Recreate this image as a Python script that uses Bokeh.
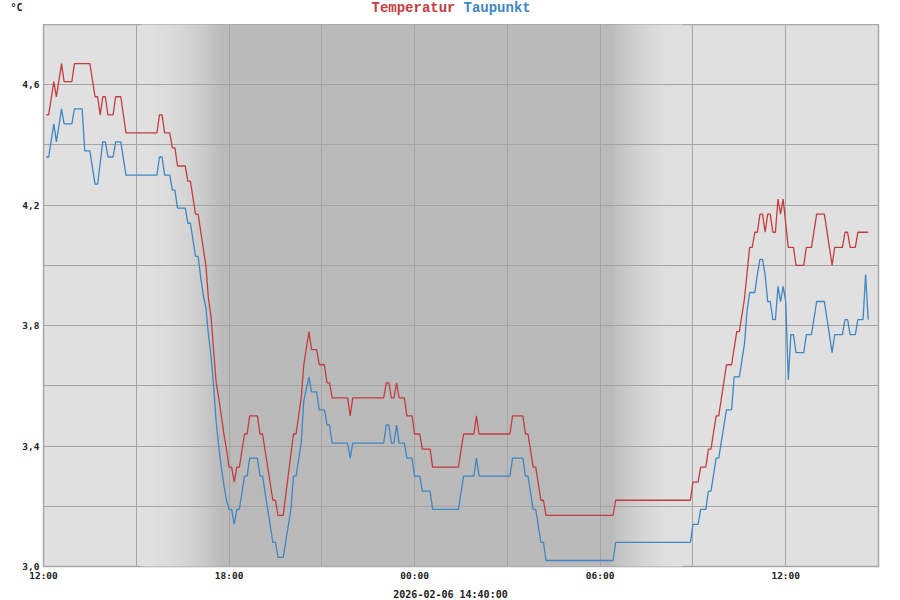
import datetime as dt
from bokeh.plotting import figure
from bokeh.layouts import column
from bokeh.models import FixedTicker, CustomJSTickFormatter, Range1d
from bokeh.core.properties import value
from bokeh.embed import file_html
from bokeh.resources import INLINE

# ---------------- data ----------------
START = dt.datetime(2026, 2, 5, 12, 0)       # left edge of the time axis
END = dt.datetime(2026, 2, 6, 15, 0)         # right edge of the time axis

series_names = ["Temperatur", "Taupunkt"]
unit_label = "°C"

# minutes after 2026-02-05 12:00 and values in °C (vertices of the line)
temp_minutes = [5, 10, 20, 25, 35, 40, 55, 60, 90, 100, 105, 110, 115, 120, 125, 135, 140, 150, 160, 220,
                225, 230, 235, 245, 250, 255, 260, 275, 280, 285, 295, 300, 315, 320, 325, 330, 335, 340, 345, 350,
                355, 360, 365, 370, 375, 380, 390, 395, 400, 415, 420, 425, 445, 450, 455, 465, 485, 490, 500, 505,
                515, 520, 530, 535, 545, 550, 555, 560, 590, 595, 600, 660, 665, 670, 675, 680, 685, 690, 700, 705,
                715, 720, 730, 735, 750, 755, 805, 815, 835, 840, 845, 905, 910, 930, 935, 940, 950, 955, 965, 970,
                975, 1105, 1110, 1255, 1260, 1270, 1275, 1285, 1290, 1295, 1305, 1310, 1325, 1335, 1345, 1350, 1360,
                1370, 1375, 1380, 1385, 1390, 1395, 1400, 1405, 1410, 1415, 1420, 1425, 1430, 1435, 1445, 1455, 1460,
                1475, 1480, 1490, 1500, 1515, 1530, 1535, 1550, 1555, 1560, 1565, 1575, 1580, 1600]
temp_values = [4.50, 4.50, 4.61, 4.56, 4.67, 4.61, 4.61, 4.67, 4.67, 4.56, 4.56, 4.50, 4.56, 4.56, 4.50, 4.50, 4.56, 4.56, 4.44, 4.44,
               4.50, 4.50, 4.44, 4.44, 4.39, 4.39, 4.33, 4.33, 4.28, 4.28, 4.17, 4.17, 4.00, 3.89, 3.83, 3.72, 3.61, 3.56, 3.50, 3.44,
               3.39, 3.33, 3.33, 3.28, 3.33, 3.33, 3.44, 3.44, 3.50, 3.50, 3.44, 3.44, 3.22, 3.22, 3.17, 3.17, 3.44, 3.44, 3.56, 3.67,
               3.78, 3.72, 3.72, 3.67, 3.67, 3.61, 3.61, 3.56, 3.56, 3.50, 3.56, 3.56, 3.61, 3.61, 3.56, 3.56, 3.61, 3.56, 3.56, 3.50,
               3.50, 3.44, 3.44, 3.39, 3.39, 3.33, 3.33, 3.44, 3.44, 3.50, 3.44, 3.44, 3.50, 3.50, 3.44, 3.44, 3.33, 3.33, 3.22, 3.22,
               3.17, 3.17, 3.22, 3.22, 3.28, 3.28, 3.33, 3.33, 3.39, 3.39, 3.50, 3.50, 3.67, 3.67, 3.78, 3.78, 3.89,
               4.06, 4.06, 4.11, 4.11, 4.17, 4.17, 4.11, 4.17, 4.17, 4.11, 4.11, 4.22, 4.17, 4.22, 4.06, 4.06, 4.00,
               4.00, 4.06, 4.06, 4.17, 4.17, 4.00, 4.06, 4.06, 4.11, 4.11, 4.06, 4.06, 4.11, 4.11]

dew_minutes = [5, 10, 20, 25, 35, 40, 55, 60, 75, 80, 90, 100, 105, 115, 120, 125, 135, 140, 150, 160,
               220, 225, 230, 235, 245, 250, 255, 260, 275, 280, 285, 295, 300, 305, 310, 315, 320, 325, 330, 335,
               340, 345, 350, 355, 360, 365, 370, 375, 380, 390, 395, 400, 415, 420, 425, 445, 450, 455, 465, 480,
               485, 490, 500, 505, 515, 520, 530, 535, 545, 550, 555, 560, 590, 595, 600, 660, 665, 670, 675, 680,
               685, 690, 700, 705, 715, 720, 730, 735, 750, 755, 805, 815, 835, 840, 845, 905, 910, 930, 935, 940,
               950, 955, 965, 970, 975, 1105, 1110, 1255, 1260, 1270, 1275, 1285, 1290, 1295, 1305, 1310, 1325, 1335,
               1340, 1350, 1360, 1365, 1370, 1380, 1385, 1390, 1395, 1400, 1405, 1410, 1415, 1420, 1425, 1430, 1435,
               1440, 1445, 1450, 1455, 1460, 1475, 1480, 1490, 1500, 1515, 1530, 1535, 1550, 1555, 1560, 1565, 1575,
               1580, 1590, 1595, 1600]
dew_values = [4.36, 4.36, 4.47, 4.41, 4.52, 4.47, 4.47, 4.52, 4.52, 4.38, 4.38, 4.27, 4.27, 4.41, 4.41, 4.36, 4.36, 4.41, 4.41, 4.30,
              4.30, 4.36, 4.36, 4.30, 4.30, 4.25, 4.25, 4.19, 4.19, 4.14, 4.14, 4.03, 4.03, 3.96, 3.90, 3.86, 3.77, 3.70, 3.60, 3.48,
              3.40, 3.33, 3.27, 3.22, 3.19, 3.19, 3.14, 3.19, 3.19, 3.30, 3.30, 3.36, 3.36, 3.30, 3.30, 3.08, 3.08, 3.03, 3.03, 3.19,
              3.30, 3.30, 3.41, 3.55, 3.63, 3.58, 3.58, 3.52, 3.52, 3.47, 3.47, 3.41, 3.41, 3.36, 3.41, 3.41, 3.47, 3.47, 3.41, 3.41,
              3.47, 3.41, 3.41, 3.36, 3.36, 3.30, 3.30, 3.25, 3.25, 3.19, 3.19, 3.30, 3.30, 3.36, 3.30, 3.30, 3.36, 3.36, 3.30, 3.30,
              3.19, 3.19, 3.08, 3.08, 3.02, 3.02, 3.08, 3.08, 3.14, 3.14, 3.19, 3.19, 3.25, 3.25, 3.36, 3.36, 3.52, 3.52,
              3.63, 3.63, 3.74, 3.85, 3.91, 3.91, 3.97, 4.02, 4.02, 3.97, 3.88, 3.88, 3.82, 3.82, 3.93, 3.88, 3.93,
              3.88, 3.62, 3.77, 3.77, 3.71, 3.71, 3.77, 3.77, 3.88, 3.88, 3.71, 3.77, 3.77, 3.82, 3.82, 3.77, 3.77,
              3.82, 3.82, 3.97, 3.82]

y_label_ticks = [3.0, 3.4, 3.8, 4.2, 4.6]
y_grid_only_ticks = [3.2, 3.6, 4.0, 4.4, 4.8]
x_label_hours = [0, 6, 12, 18, 24]           # hours after START with a label
x_grid_only_hours = [3, 9, 15, 21, 27]

# night shading (darkness ramps): dusk from light to dark, dawn from dark to light
DUSK_START = dt.datetime(2026, 2, 5, 15, 10)
DUSK_END = dt.datetime(2026, 2, 5, 17, 45)
DAWN_START = dt.datetime(2026, 2, 6, 6, 20)
DAWN_END = dt.datetime(2026, 2, 6, 8, 40)

# ---------------- styling ----------------
RED = "#c43c3f"
BLUE = "#3f86c4"
LIGHT = 224
DARK = 186
GRID = "#a4a4a4"
TEXT = "#222222"
TITLE_FONT = "Liberation Mono"
TICK_FONT = "DejaVu Sans Mono"
W = 900
HEADER_H, MAIN_H, FOOTER_H = 24, 559, 17


def ms(t):
    return (t - dt.datetime(1970, 1, 1)).total_seconds() * 1000.0


def gray(d):
    g = int(round(LIGHT - (LIGHT - DARK) * d))
    return "#%02x%02x%02x" % (g, g, g)


def no_frame_align(f):
    try:
        f.frame_align = False
    except Exception:
        pass


def strip_figure(height):
    f = figure(width=W, height=height, x_range=Range1d(0, W), y_range=Range1d(height, 0),
               output_backend="svg", toolbar_location=None, min_border=0,
               x_axis_location=None, y_axis_location=None)
    f.outline_line_color = None
    f.grid.visible = False
    f.background_fill_color = "white"
    f.border_fill_color = "white"
    no_frame_align(f)
    return f


temp_t = [START + dt.timedelta(minutes=m) for m in temp_minutes]
dew_t = [START + dt.timedelta(minutes=m) for m in dew_minutes]
last_time = START + dt.timedelta(minutes=max(temp_minutes[-1], dew_minutes[-1]))

# ---------------- header: unit and two-coloured title ----------------
header = strip_figure(HEADER_H)
header.text(x=[371], y=[7], text=[series_names[0]], text_color=RED,
            text_font=value(TITLE_FONT), text_font_style="bold", text_font_size=value("14px"),
            text_baseline="middle", text_align="left")
header.text(x=[463], y=[7], text=[series_names[1]], text_color=BLUE,
            text_font=value(TITLE_FONT), text_font_style="bold", text_font_size=value("14px"),
            text_baseline="middle", text_align="left")
header.text(x=[10], y=[7], text=[unit_label], text_color=TEXT,
            text_font=value(TICK_FONT), text_font_style="bold", text_font_size=value("10px"),
            text_baseline="middle", text_align="left")

# ---------------- main chart ----------------
p = figure(width=W, height=MAIN_H, x_axis_type="datetime", output_backend="svg",
           toolbar_location=None, min_border_left=43, min_border_right=22,
           min_border_top=0, min_border_bottom=16)
no_frame_align(p)
p.x_range = Range1d(ms(START), ms(END))
p.y_range = Range1d(3.0, 4.8)
p.background_fill_color = gray(0)
p.border_fill_color = "white"
p.outline_line_color = "#a8a8a8"
p.outline_line_width = 1.5

lefts, rights, cols = [], [], []
step = dt.timedelta(minutes=1)


def ramp(t0, t1, dark_at_end):
    t = t0
    total = (t1 - t0).total_seconds()
    while t < t1:
        u = (t - t0).total_seconds() / total
        d = u * u if dark_at_end else (1 - u) * (1 - u)
        lefts.append(ms(t))
        rights.append(ms(t + 2 * step))
        cols.append(gray(d))
        t += step


ramp(DUSK_START, DUSK_END, True)
lefts.append(ms(DUSK_END)); rights.append(ms(DAWN_START) + 60000); cols.append(gray(1))
ramp(DAWN_START, DAWN_END, False)
bg = p.quad(left=lefts, right=rights, bottom=3.0, top=4.8, fill_color=cols, line_color=None)
bg.level = "image"

p.line(temp_t, temp_values, line_color=RED, line_width=1.3)
p.line(dew_t, dew_values, line_color=BLUE, line_width=1.3)

p.yaxis.ticker = FixedTicker(ticks=y_label_ticks, minor_ticks=y_grid_only_ticks)
p.yaxis.formatter = CustomJSTickFormatter(code="return tick.toFixed(1).replace('.', ',');")
p.xaxis.ticker = FixedTicker(ticks=[ms(START + dt.timedelta(hours=h)) for h in x_label_hours],
                             minor_ticks=[ms(START + dt.timedelta(hours=h)) for h in x_grid_only_hours])
p.xaxis.formatter = CustomJSTickFormatter(code="""
const d = new Date(tick);
return String(d.getUTCHours()).padStart(2, '0') + ':' + String(d.getUTCMinutes()).padStart(2, '0');
""")
for ax in (p.xaxis, p.yaxis):
    ax.axis_line_color = None
    ax.major_tick_line_color = None
    ax.minor_tick_line_color = None
    ax.major_tick_out = 0
    ax.major_tick_in = 0
    ax.minor_tick_out = 0
    ax.minor_tick_in = 0
    ax.major_label_text_font = TICK_FONT
    ax.major_label_text_font_style = "bold"
    ax.major_label_text_font_size = "9.5px"
    ax.major_label_text_color = TEXT
    ax.major_label_standoff = 4
p.xaxis.major_label_standoff = 3

for g in (p.xgrid, p.ygrid):
    g.grid_line_color = GRID
    g.grid_line_width = 1
    g.minor_grid_line_color = GRID
    g.minor_grid_line_width = 1

# ---------------- footer: time of the last reading ----------------
footer = strip_figure(FOOTER_H)
footer.text(x=[W / 2], y=[10.5], text=[last_time.strftime("%Y-%m-%d %H:%M:%S")], text_color=TEXT,
            text_font=value(TICK_FONT), text_font_style="bold", text_font_size=value("10px"),
            text_baseline="middle", text_align="center")

layout = column(header, p, footer, spacing=0)
open("out.html", "w").write(file_html(layout, INLINE))
